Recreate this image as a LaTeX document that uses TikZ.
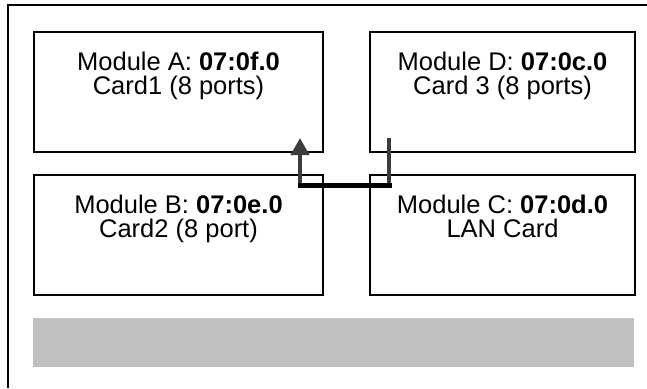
\documentclass[tikz,border=0pt]{standalone}
\usepackage{fontspec}
\setmainfont{Liberation Sans}
\usetikzlibrary{arrows.meta}
\definecolor{wiregray}{HTML}{3C3C3C}
\definecolor{slotgray}{HTML}{C0C0C0}
\tikzstyle{module} = [draw, line width=2pt, anchor=north west, minimum height=120pt, inner sep=0pt]
\tikzstyle{caption} = [anchor=north, align=center, inner sep=0pt, yshift=-20.5pt, font=\fontsize{25.5}{24.5}\selectfont]
\tikzstyle{wire} = [draw=wiregray, line width=4pt]

\begin{document}
\begin{tikzpicture}[x=1pt, y=1pt]
\useasboundingbox (0,0) rectangle (647,-388);
% chassis outline
\draw[line width=1.6pt] (8,-388) -- (8,-5) -- (647,-5);
% modules
\node[module, minimum width=289pt,
	label={[caption]north:{Module A: \textbf{07:0f.0}\\Card1 (8 ports)}}] (A) at (33,-31) {};
\node[module, minimum width=265pt,
	label={[caption]north:{Module D: \textbf{07:0c.0}\\Card 3 (8 ports)}}] (D) at (369,-31) {};
\node[module, minimum width=289pt,
	label={[caption]north:{Module B: \textbf{07:0e.0}\\Card2 (8 port)}}] (B) at (33,-174) {};
\node[module, minimum width=265pt,
	label={[caption]north:{Module C: \textbf{07:0d.0}\\LAN Card}}] (C) at (369,-174) {};
\node[fill=slotgray, anchor=north west, minimum width=601pt, minimum height=49pt, inner sep=0pt] (slot) at (33,-318) {};
% cable from D to A
\coordinate (dtap) at ([shift={(20,15)}]D.south west);
\coordinate (atap) at ([shift={(-24,15)}]A.south east);
\coordinate (dlow) at ([yshift=-47]dtap);
\coordinate (alow) at (atap |- dlow);
\draw[wire] (dtap) -- (dlow);
\draw[wire, -{Triangle[width=18pt, length=17pt]}] (alow) -- (atap);
\draw[line width=5pt, line cap=rect] (dlow) -- (alow);
\end{tikzpicture}
\end{document}
